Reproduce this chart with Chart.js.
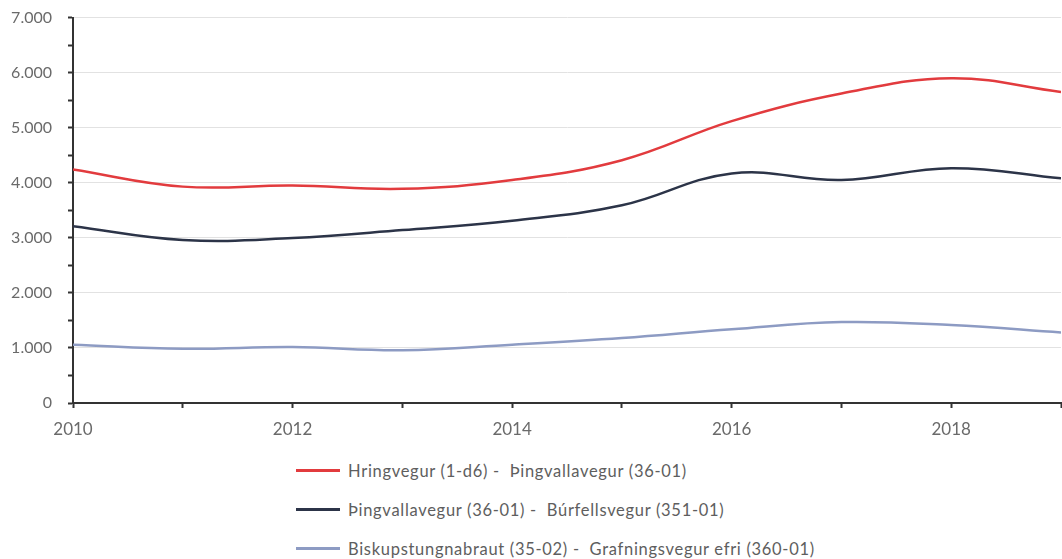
<!DOCTYPE html>
<html>
<head>
<meta charset="utf-8">
<script src="https://cdn.jsdelivr.net/npm/chart.js@4.4.1/dist/chart.umd.min.js"></script>
<style>
  html, body { margin: 0; padding: 0; background: #fff; overflow: hidden; width: 1062px; height: 559px; }
  #wrap { position: absolute; left: 0; top: -8px; width: 1072px; height: 453px; }
  #legend { position: absolute; left: 296px; top: 451px; font-family: Lato, "Open Sans", sans-serif; font-size: 16.5px; letter-spacing: 0.7px; color: #5e5e5e; }
  .item { display: flex; align-items: center; height: 39px; white-space: pre; }
  .swatch { width: 44px; height: 2.5px; margin-right: 8px; }
</style>
</head>
<body>
<div id="wrap"><canvas id="c" width="1072" height="453"></canvas></div>
<div id="legend"></div>
<script>
const years = [2010, 2011, 2012, 2013, 2014, 2015, 2016, 2017, 2018, 2019];
const seriesNames = [
  "Hringvegur (1-d6) -  Þingvallavegur (36-01)",
  "Þingvallavegur (36-01) -  Búrfellsvegur (351-01)",
  "Biskupstungnabraut (35-02) -  Grafningsvegur efri (360-01)"
];
const hringvegur = [4240, 3930, 3950, 3890, 4050, 4410, 5120, 5620, 5900, 5650];
const thingvallavegur = [3210, 2960, 2995, 3140, 3310, 3590, 4170, 4050, 4265, 4080];
const biskupstungnabraut = [1060, 985, 1015, 960, 1060, 1180, 1340, 1470, 1415, 1280];
const seriesColors = ["#e23b3e", "#2c3448", "#8d9bc3"];
const xTickLabels = ["2010", "2012", "2014", "2016", "2018"];

const allValues = [hringvegur, thingvallavegur, biskupstungnabraut];
const datasets = allValues.map((vals, i) => ({
  label: seriesNames[i],
  data: years.map((y, j) => ({ x: y, y: vals[j] })),
  borderColor: seriesColors[i],
  backgroundColor: seriesColors[i],
  borderWidth: 2.5,
  pointRadius: 0,
  tension: 0.4,
  fill: false
}));

const fontFam = 'Lato, "Open Sans", sans-serif';

const chart = new Chart(document.getElementById('c'), {
  type: 'line',
  data: { datasets },
  options: {
    responsive: false,
    animation: false,
    layout: { padding: { top: 6, right: 5, left: 0, bottom: 0 } },
    plugins: { legend: { display: false }, tooltip: { enabled: false } },
    scales: {
      x: {
        type: 'linear',
        min: 2010,
        max: 2019,
        afterFit: s => { s.height = 42; },
        border: { color: '#333', width: 2 },
        grid: { drawOnChartArea: false, drawTicks: true, tickLength: 5, tickColor: '#333', tickWidth: 2 },
        ticks: {
          stepSize: 1,
          padding: 11,
          autoSkip: false,
          maxRotation: 0,
          color: '#6a6a6a',
          font: { family: fontFam, size: 17 },
          callback: v => xTickLabels.includes(String(v)) ? String(v) : ''
        }
      },
      y: {
        min: 0,
        max: 7000,
        afterFit: s => { s.width = 73; },
        border: { color: '#333', width: 2 },
        grid: {
          color: ctx => (ctx.tick && ctx.tick.value % 1000 === 0 && ctx.tick.value !== 0) ? '#e2e2e2' : 'rgba(0,0,0,0)',
          tickColor: '#333',
          tickLength: 5,
          tickWidth: 2,
          lineWidth: 1
        },
        ticks: {
          stepSize: 500,
          autoSkip: false,
          padding: 16,
          color: '#6a6a6a',
          font: { family: fontFam, size: 16 },
          callback: v => v % 1000 === 0 ? (v === 0 ? '0' : (v / 1000) + '.000') : ''
        }
      }
    }
  }
});

const legend = document.getElementById('legend');
chart.data.datasets.forEach(ds => {
  const row = document.createElement('div');
  row.className = 'item';
  const sw = document.createElement('span');
  sw.className = 'swatch';
  sw.style.background = ds.borderColor;
  const tx = document.createElement('span');
  tx.textContent = ds.label;
  row.appendChild(sw);
  row.appendChild(tx);
  legend.appendChild(row);
});
</script>
</body>
</html>
